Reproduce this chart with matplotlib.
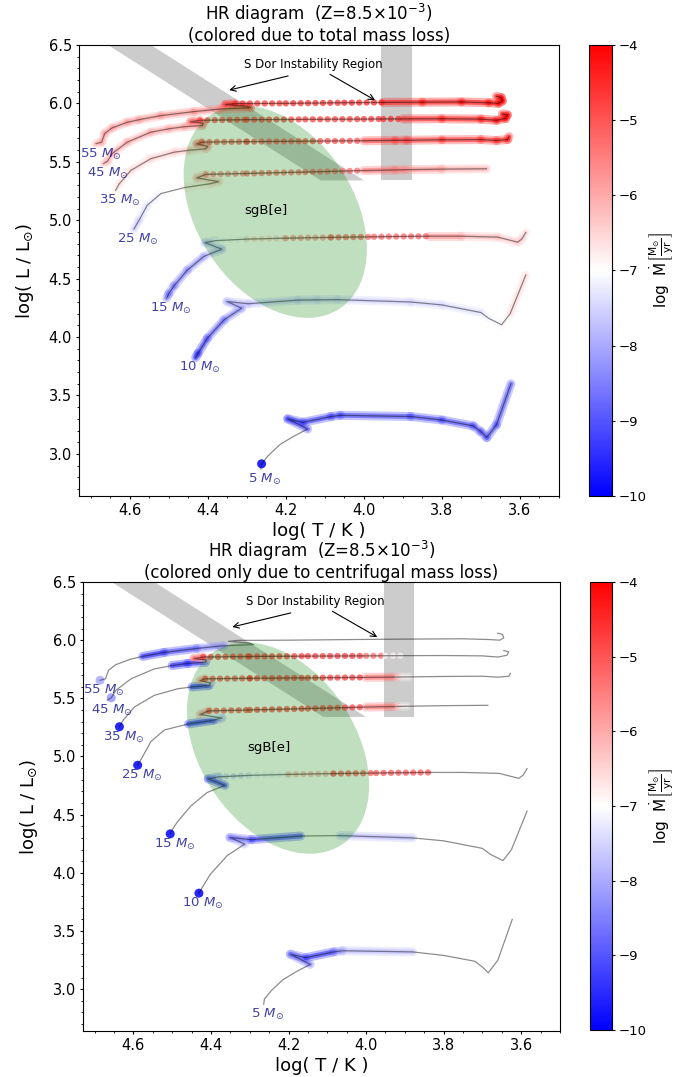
import numpy as np
import matplotlib
matplotlib.use('Agg')
import matplotlib.pyplot as plt
from matplotlib.collections import LineCollection
from matplotlib.colors import Normalize
from matplotlib.patches import Ellipse
from matplotlib.ticker import MultipleLocator
from matplotlib.cm import ScalarMappable

nan = np.nan

# tracks: log T, log L, log Mdot (total), log Mdot (centrifugal only)
# gapXX = segment range crossed quickly (models far apart -> single dots)
T55 = [4.686, 4.672, 4.664, 4.645, 4.606, 4.576, 4.520, 4.436, 4.367, 4.290, 4.300, 4.355,
       4.330, 4.200, 4.050, 3.950, 3.850, 3.750, 3.680, 3.655, 3.645, 3.648, 3.660]
L55 = [5.655, 5.668, 5.742, 5.790, 5.838, 5.860, 5.895, 5.929, 5.952, 5.962, 5.975, 5.990,
       5.998, 6.000, 6.005, 6.008, 6.010, 6.012, 6.005, 6.000, 6.020, 6.050, 6.060]
tot55 = [-6.0, -6.0, -5.9, -5.9, -5.8, -5.8, -5.8, -5.7, -5.5, -5.2, -5.0, -4.8,
         -4.6, -4.5, -4.4, -4.3, -4.2, -4.1, -4.0, -4.0, -4.0, -4.0, -4.0]
cen55 = [-8.0, nan, nan, nan, nan, -9.8, -9.6, -8.8, -8.2, nan, nan, nan,
         nan, nan, nan, nan, nan, nan, nan, nan, nan, nan, nan]
gap55 = (12, 15)

T45 = [4.667, 4.657, 4.645, 4.606, 4.546, 4.500, 4.460, 4.414, 4.412, 4.444, 4.420,
       4.300, 4.150, 4.000, 3.950, 3.900, 3.800, 3.700, 3.660, 3.637, 3.632, 3.645]
L45 = [5.485, 5.505, 5.570, 5.668, 5.753, 5.782, 5.800, 5.810, 5.830, 5.842, 5.855,
       5.860, 5.863, 5.865, 5.866, 5.867, 5.868, 5.865, 5.855, 5.870, 5.900, 5.910]
tot45 = [-6.2, -6.2, -6.1, -6.0, -6.0, -5.9, -5.9, -5.8, -5.6, -5.4, -4.9,
         -4.8, -4.7, -4.6, -4.5, -4.4, -4.3, -4.2, -4.1, -4.0, -4.0, -4.0]
cen45 = [nan, -8.2, nan, nan, nan, -9.8, -9.6, -9.3, -6.5, -5.5, -4.8,
         -4.6, -4.6, -4.7, -5.8, -8.0, nan, nan, nan, nan, nan, nan]
gap45 = (10, 15)

T35 = [4.636, 4.627, 4.597, 4.546, 4.486, 4.449, 4.405, 4.400, 4.428, 4.415,
       4.300, 4.150, 4.000, 3.920, 3.890, 3.800, 3.700, 3.660, 3.632, 3.628]
L35 = [5.256, 5.310, 5.426, 5.526, 5.582, 5.598, 5.611, 5.632, 5.652, 5.668,
       5.672, 5.676, 5.680, 5.683, 5.684, 5.688, 5.690, 5.682, 5.690, 5.715]
tot35 = [-6.8, -6.7, -6.6, -6.5, -6.4, -6.4, -6.3, -6.0, -5.7, -5.2,
         -5.0, -4.9, -4.8, -4.7, -4.7, -4.6, -4.5, -4.4, -4.3, -4.3]
cen35 = [-10.0, nan, nan, nan, nan, -9.8, -9.5, -7.5, -6.0, -5.0,
         -4.8, -4.6, -4.7, -5.8, -8.0, nan, nan, nan, nan, nan]
gap35 = (9, 12)

T25 = [4.589, 4.576, 4.555, 4.520, 4.458, 4.394, 4.372, 4.428, 4.405,
       4.300, 4.150, 4.000, 3.920, 3.895, 3.800, 3.686]
L25 = [4.925, 5.000, 5.128, 5.228, 5.280, 5.312, 5.330, 5.362, 5.392,
       5.400, 5.412, 5.425, 5.430, 5.432, 5.437, 5.440]
tot25 = [-7.7, -7.5, -7.3, -7.1, -6.9, -6.6, -6.4, -6.3, -5.8,
         -5.4, -5.2, -5.2, -5.4, -5.5, -5.8, -6.2]
cen25 = [-10.0, nan, nan, nan, -9.8, -9.5, -8.0, -6.3, -5.0,
         -4.8, -4.7, -4.8, -5.8, -8.0, nan, nan]
gap25 = (8, 11)

T15 = [4.505, 4.500, 4.486, 4.452, 4.410, 4.364, 4.407, 4.380, 4.300,
       4.200, 4.084, 3.974, 3.834, 3.750, 3.657, 3.606, 3.595, 3.585]
L15 = [4.335, 4.370, 4.440, 4.574, 4.690, 4.752, 4.808, 4.825, 4.838,
       4.846, 4.853, 4.858, 4.863, 4.863, 4.855, 4.812, 4.840, 4.895]
tot15 = [-8.8, -8.8, -8.6, -8.4, -8.2, -7.5, -8.0, -7.4, -6.8,
         -6.2, -5.3, -5.0, -5.2, -6.0, -6.3, -6.4, -6.5, -6.5]
cen15 = [-10.0, nan, nan, nan, nan, -9.5, -9.3, -7.8, -7.4,
         -7.0, -5.2, -4.8, -5.0, nan, nan, nan, nan, nan]
gap15 = (7, 12)

T10 = [4.431, 4.425, 4.401, 4.358, 4.313, 4.351, 4.296, 4.169, 4.120,
       4.067, 3.880, 3.800, 3.700, 3.680, 3.647, 3.625, 3.585]
L10 = [3.825, 3.860, 3.990, 4.148, 4.247, 4.304, 4.285, 4.316, 4.318,
       4.320, 4.300, 4.275, 4.210, 4.160, 4.105, 4.200, 4.530]
tot10 = [-9.8, -9.6, -9.0, -8.6, -8.2, -7.8, -7.8, -7.7, -7.7,
         -7.6, -7.5, -7.5, -7.3, -7.1, -7.0, -6.8, -6.4]
cen10 = [-10.0, nan, nan, nan, -8.0, -8.0, -9.5, -9.2, nan,
         -7.8, -7.8, nan, nan, nan, nan, nan, nan]
gap10 = (0, 0)

T5 = [4.264, 4.262, 4.245, 4.215, 4.180, 4.144, 4.195, 4.156, 4.084,
      4.060, 3.880, 3.800, 3.720, 3.700, 3.685, 3.660, 3.623]
L5 = [2.870, 2.915, 2.985, 3.080, 3.150, 3.213, 3.300, 3.270, 3.320,
      3.330, 3.320, 3.290, 3.240, 3.190, 3.140, 3.250, 3.600]
tot5 = [nan, -10.0, nan, nan, nan, -9.3, -9.0, -9.4, -9.3,
        -9.2, -9.2, -9.2, -9.1, -9.0, -9.0, -9.0, -9.0]
cen5 = [nan, nan, nan, nan, nan, -9.3, -8.0, -9.6, -9.4,
        -7.8, -7.8, nan, nan, nan, nan, nan, nan]
gap5 = (0, 0)

masses = [55, 45, 35, 25, 15, 10, 5]
tracks = [(55, T55, L55, tot55, cen55, gap55),
          (45, T45, L45, tot45, cen45, gap45),
          (35, T35, L35, tot35, cen35, gap35),
          (25, T25, L25, tot25, cen25, gap25),
          (15, T15, L15, tot15, cen15, gap15),
          (10, T10, L10, tot10, cen10, gap10),
          (5, T5, L5, tot5, cen5, gap5)]

# S Dor instability strip (diagonal + vertical part) and sgB[e] region
sdor_T = [4.656, 4.546, 4.000, 4.110]
sdor_L = [6.5, 6.5, 5.34, 5.34]
sdor_cool_T = [3.955, 3.877]
sdor_cool_L = [5.34, 6.5]
sgbe_center = (4.227, 5.072)
sgbe_size = (0.438, 1.824)
sgbe_angle = -5.5

cmap = plt.get_cmap('bwr')
norm = Normalize(vmin=-10, vmax=-4)


def draw_track(ax, T, L, mdot, gap):
    T = np.asarray(T)
    L = np.asarray(L)
    m = np.asarray(mdot, dtype=float)
    pts = np.column_stack([T, L])
    segs = np.stack([pts[:-1], pts[1:]], axis=1)
    mid = 0.5 * (m[:-1] + m[1:])
    ok = ~np.isnan(mid)
    i = np.arange(len(mid))
    dotted = ok & (i >= gap[0]) & (i < gap[1])
    band = ok & ~dotted
    col = cmap(norm(np.nan_to_num(mid, nan=-7)))
    ax.add_collection(LineCollection(segs[band], colors=col[band], linewidths=6.5,
                                     alpha=0.3, capstyle='round', zorder=2))
    ax.add_collection(LineCollection(segs[band], colors=col[band], linewidths=3.5,
                                     alpha=0.55, capstyle='round', zorder=2))
    ax.add_collection(LineCollection(segs[dotted], colors=col[dotted], linewidths=4.6,
                                     alpha=0.7, linestyles=[(0, (0.01, 1.15))],
                                     capstyle='round', zorder=2))
    # models without a neighbour that loses mass
    prev = np.r_[nan, m[:-1]]
    nxt = np.r_[m[1:], nan]
    lone = ~np.isnan(m) & np.isnan(prev) & np.isnan(nxt)
    ax.scatter(T[lone], L[lone], c=m[lone], cmap=cmap, norm=norm, s=42,
               alpha=0.85, edgecolors='none', zorder=3)
    ax.plot(T, L, color='k', lw=0.9, alpha=0.45, zorder=3)


def hr_panel(ax, cax, which, subtitle):
    ax.fill(sdor_T, sdor_L, color='gray', alpha=0.4, lw=0, zorder=1)
    ax.fill_between(sdor_cool_T, sdor_cool_L[0], sdor_cool_L[1], color='gray',
                    alpha=0.4, lw=0, zorder=1)

    for m, T, L, tot, cen, gap in tracks:
        draw_track(ax, T, L, tot if which == 'tot' else cen, gap)
        ax.annotate(f'{m} $M_{{\\odot}}$', xy=(T[0], L[0]), xytext=(3, -7.5),
                    textcoords='offset points', ha='center', va='center',
                    fontsize=9.5, color='darkblue', alpha=0.75, zorder=5)

    ax.add_patch(Ellipse(sgbe_center, sgbe_size[0], sgbe_size[1], angle=sgbe_angle,
                         color='green', alpha=0.25, lw=0, zorder=4))
    ax.text(4.25, 5.08, 'sgB[e]', ha='center', va='center', fontsize=9.5, zorder=5)

    ax.text(4.13, 6.33, 'S Dor Instability Region', ha='center', va='center',
            fontsize=8.5, zorder=5)
    ax.annotate('', xy=(4.352, 6.108), xytext=(4.187, 6.24),
                arrowprops=dict(arrowstyle='->', color='k', lw=0.8), zorder=5)
    ax.annotate('', xy=(3.965, 6.015), xytext=(4.093, 6.26),
                arrowprops=dict(arrowstyle='->', color='k', lw=0.8), zorder=5)

    ax.set_xlim(4.73, 3.5)
    ax.set_ylim(2.64, 6.5)
    ax.xaxis.set_major_locator(MultipleLocator(0.2))
    ax.xaxis.set_minor_locator(MultipleLocator(0.05))
    ax.yaxis.set_major_locator(MultipleLocator(0.5))
    ax.yaxis.set_minor_locator(MultipleLocator(0.1))
    ax.tick_params(which='major', length=2.5, pad=2.5, labelsize=10.5)
    ax.tick_params(which='minor', length=1.5)
    ax.set_xlabel('log( T / K )', fontsize=13, labelpad=3)
    ax.set_ylabel('log( L / L$_{\\odot}$)', fontsize=13, labelpad=9)
    ax.set_title('HR diagram  (Z=8.5$\\times10^{-3}$)\n' + subtitle, fontsize=12,
                 pad=3, linespacing=1.05)

    cb = plt.colorbar(ScalarMappable(norm=norm, cmap=cmap), cax=cax,
                      ticks=[-4, -5, -6, -7, -8, -9, -10])
    cb.ax.tick_params(labelsize=9.5, length=2.5, pad=2)
    cb.set_label('log  $\\dot{\\rm M}\\left[\\frac{\\rm M_{\\odot}}{\\rm yr}\\right]$',
                 fontsize=11, labelpad=1)


fig = plt.figure(figsize=(6.79, 10.77), dpi=100)
ax1 = fig.add_axes([0.1163, 0.5395, 0.7069, 0.4188])
cax1 = fig.add_axes([0.8675, 0.5395, 0.0339, 0.4188])
ax2 = fig.add_axes([0.1222, 0.0427, 0.7025, 0.4169])
cax2 = fig.add_axes([0.8690, 0.0436, 0.0324, 0.4160])

hr_panel(ax1, cax1, 'tot', '(colored due to total mass loss)')
hr_panel(ax2, cax2, 'cen', '(colored only due to centrifugal mass loss)')

fig.savefig('out.png', dpi=100)
